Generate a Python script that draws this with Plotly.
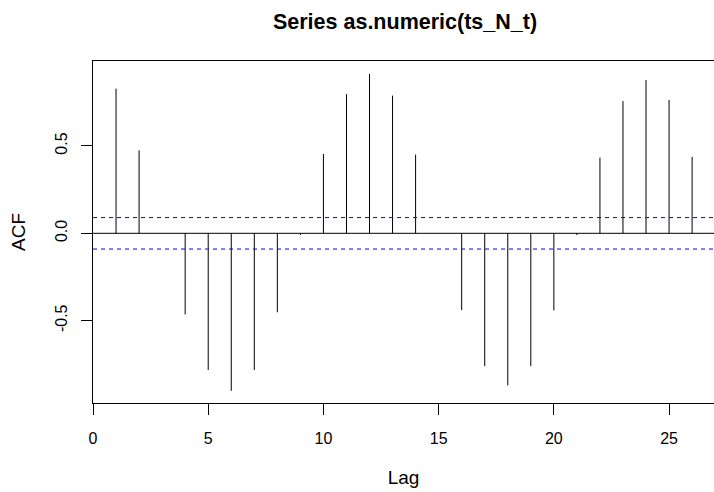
import plotly.graph_objects as go

lags = list(range(1, 27))
acf_vals = [0.828, 0.475, 0.0, -0.464, -0.782, -0.901, -0.782, -0.452, -0.01, 0.454,
            0.796, 0.912, 0.788, 0.450, 0.0, -0.439, -0.760, -0.870, -0.760, -0.441,
            -0.01, 0.433, 0.757, 0.877, 0.763, 0.437]
ci = 0.09
x_ticks = [0, 5, 10, 15, 20, 25]
y_ticks = [-0.5, 0.0, 0.5]
y_tick_text = ["-0.5", "0.0", "0.5"]

xs, ys = [], []
for l, v in zip(lags, acf_vals):
    xs += [l, l, None]
    ys += [0, v, None]

xmin, xmax = 0, 26.95
fig = go.Figure()
fig.add_trace(go.Scatter(x=xs, y=ys, mode="lines", line=dict(color="black", width=1),
                         hoverinfo="skip", showlegend=False))
fig.add_trace(go.Scatter(x=[xmin, xmax], y=[0, 0], mode="lines",
                         line=dict(color="black", width=1), hoverinfo="skip", showlegend=False))
for c in (ci, -ci):
    fig.add_trace(go.Scatter(x=[xmin, xmax], y=[c, c], mode="lines", hoverinfo="skip",
                             line=dict(color="#0000FF", width=1, dash="4px,4px"), showlegend=False))

W, H = 714, 492
font = "Liberation Sans, Arial, sans-serif"
fig.update_layout(
    width=W, height=H,
    margin=dict(l=93, r=0, t=61, b=89, autoexpand=False),
    paper_bgcolor="white", plot_bgcolor="white",
    font=dict(family=font, size=16, color="black"),
    title=dict(text="<b>Series as.numeric(ts_N_t)</b>", x=405 / W, xanchor="center",
               y=1 - 21 / H, yanchor="middle", font=dict(size=21.5)),
    showlegend=False,
    hovermode=False,
)
fig.update_xaxes(range=[xmin, xmax], tickvals=x_ticks, ticks="outside", ticklen=11, tickwidth=1,
                 tickcolor="black", showline=True, linecolor="black", linewidth=1, mirror=True,
                 showgrid=False, zeroline=False, title=dict(text="Lag", standoff=24),
                 ticklabelstandoff=10, automargin=False)
fig.update_yaxes(range=[-0.971, 0.986], tickvals=y_ticks, ticktext=y_tick_text, tickangle=-90,
                 ticks="outside", ticklen=11, tickwidth=1, tickcolor="black", showline=True,
                 linecolor="black", linewidth=1, mirror=False, showgrid=False, zeroline=False,
                 title=dict(text="ACF", standoff=21), ticklabelstandoff=8, automargin=False)
# remove the default 8px page margin so the figure fills the window exactly
fig.write_html("out.html", config={"displayModeBar": False},
               post_script="document.body.style.margin='0';document.body.style.overflow='hidden';")
